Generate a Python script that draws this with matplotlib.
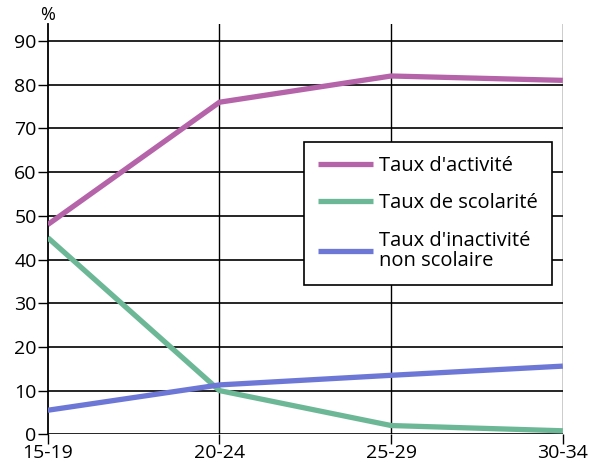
import matplotlib.pyplot as plt

# Taux par tranche d'âge (%)
ages = ['15-19', '20-24', '25-29', '30-34']
activite = [48, 76, 82, 81]
scolarite = [45, 10, 2, 0.8]
inactivite = [5.5, 11.3, 13.5, 15.6]
yticks = [0, 10, 20, 30, 40, 50, 60, 70, 80, 90]

plt.rcParams['font.family'] = ['Open Sans', 'DejaVu Sans']

fig = plt.figure(figsize=(5.9, 4.62), dpi=100)
ax = fig.add_axes([0.081, 0.06, 0.873, 0.889])

x = range(len(ages))
ax.plot(x, activite, color='#b564a9', lw=3.8, solid_capstyle='butt', label="Taux d'activité", zorder=3)
ax.plot(x, scolarite, color='#6cb896', lw=3.8, solid_capstyle='butt', label='Taux de scolarité', zorder=3)
ax.plot(x, inactivite, color='#6d78d6', lw=3.8, solid_capstyle='butt', label="Taux d'inactivité\nnon scolaire", zorder=3)

ax.set_xlim(0, len(ages) - 1)
ax.set_ylim(0, 94)
ax.set_xticks(list(x))
ax.set_xticklabels(ages)
ax.set_yticks(yticks)

for s in ['top', 'right', 'bottom']:
    ax.spines[s].set_visible(False)
ax.spines['left'].set_linewidth(1.3)

for v in yticks:
    ax.axhline(v, color='black', lw=1.2, zorder=1)
for i in list(x)[1:]:
    ax.axvline(i, color='black', lw=1.0, zorder=1)

ax.tick_params(axis='both', labelsize=14, color='black', width=1, length=7)
ax.tick_params(axis='x', pad=0)
ax.tick_params(axis='y', pad=1)

ax.text(0.0, 1.0, '%', transform=ax.transAxes, fontsize=13, ha='center', va='bottom')

leg = ax.legend(loc='upper left', bbox_to_anchor=(0.498, 0.711), fontsize=14.5,
                frameon=True, fancybox=False, handlelength=2.7, handletextpad=0.3,
                borderpad=0.7, labelspacing=0.85, borderaxespad=0)
leg.get_texts()[2].set_linespacing(1.0)
leg.get_frame().set_edgecolor('black')
leg.get_frame().set_linewidth(1.2)
leg.get_frame().set_alpha(1)

plt.savefig('out.png', dpi=100)
